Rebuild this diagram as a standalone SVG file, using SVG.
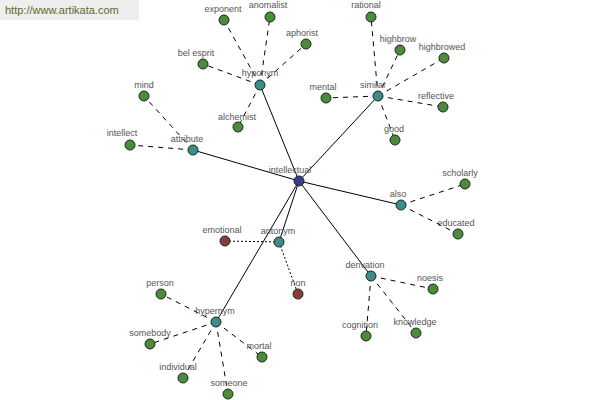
<svg xmlns="http://www.w3.org/2000/svg" width="600" height="400" viewBox="0 0 600 400">
<style>
text{font-family:"Liberation Sans",Arial,sans-serif;font-size:9px;fill:#555;text-anchor:middle}
.s{stroke:#000;stroke-width:1;fill:none}
.d{stroke:#000;stroke-width:1;fill:none;stroke-dasharray:5,5}
.o{stroke:#000;stroke-width:1;fill:none;stroke-dasharray:2,2}
circle{stroke:#1a2a1a;stroke-width:1}
.g{fill:#4b8b3b}
.h{fill:#3d8c8c}
.c{fill:#3b3b8f}
.r{fill:#8b3a3a}
</style>
<rect x="0" y="0" width="139" height="20" fill="#eeeeee"/>
<text x="5" y="14" style="text-anchor:start;font-size:11px;fill:#5b6b2b">http://www.artikata.com</text>
<g id="connectors">
<line class="s" x1="299" y1="181" x2="260" y2="85"/>
<line class="s" x1="299" y1="181" x2="378" y2="96"/>
<line class="s" x1="299" y1="181" x2="193" y2="150"/>
<line class="s" x1="299" y1="181" x2="401" y2="205"/>
<line class="s" x1="299" y1="181" x2="279" y2="242"/>
<line class="s" x1="299" y1="181" x2="371" y2="276"/>
<line class="s" x1="299" y1="181" x2="216" y2="322"/>
<line class="d" x1="260" y1="85" x2="224" y2="20"/>
<line class="d" x1="260" y1="85" x2="270" y2="17"/>
<line class="d" x1="260" y1="85" x2="306" y2="44"/>
<line class="d" x1="260" y1="85" x2="203" y2="64"/>
<line class="d" x1="260" y1="85" x2="238" y2="127"/>
<line class="d" x1="378" y1="96" x2="371" y2="17"/>
<line class="d" x1="378" y1="96" x2="400" y2="50"/>
<line class="d" x1="378" y1="96" x2="444" y2="58"/>
<line class="d" x1="378" y1="96" x2="326" y2="98"/>
<line class="d" x1="378" y1="96" x2="443" y2="107"/>
<line class="d" x1="378" y1="96" x2="395" y2="140"/>
<line class="d" x1="193" y1="150" x2="144" y2="96"/>
<line class="d" x1="193" y1="150" x2="130" y2="145"/>
<line class="d" x1="401" y1="205" x2="465" y2="184"/>
<line class="d" x1="401" y1="205" x2="458" y2="234"/>
<line class="o" x1="279" y1="242" x2="225" y2="241"/>
<line class="o" x1="279" y1="242" x2="298" y2="294"/>
<line class="d" x1="371" y1="276" x2="433" y2="289"/>
<line class="d" x1="371" y1="276" x2="366" y2="336"/>
<line class="d" x1="371" y1="276" x2="416" y2="333"/>
<line class="d" x1="216" y1="322" x2="161" y2="294"/>
<line class="d" x1="216" y1="322" x2="150" y2="344"/>
<line class="d" x1="216" y1="322" x2="183" y2="378"/>
<line class="d" x1="216" y1="322" x2="228" y2="394"/>
<line class="d" x1="216" y1="322" x2="262" y2="357"/>
</g>
<g id="intellectual"><circle class="c" cx="299" cy="181" r="5"/><text x="290" y="173">intellectual</text></g>
<g id="hyponym"><circle class="h" cx="260" cy="85" r="5"/><text x="260" y="76">hyponym</text></g>
<g id="similar"><circle class="h" cx="378" cy="96" r="5"/><text x="373" y="88">similar</text></g>
<g id="attribute"><circle class="h" cx="193" cy="150" r="5"/><text x="187" y="142">attribute</text></g>
<g id="also"><circle class="h" cx="401" cy="205" r="5"/><text x="398" y="197">also</text></g>
<g id="antonym"><circle class="h" cx="279" cy="242" r="5"/><text x="278" y="234">antonym</text></g>
<g id="derivation"><circle class="h" cx="371" cy="276" r="5"/><text x="365" y="268">derivation</text></g>
<g id="hypernym"><circle class="h" cx="216" cy="322" r="5"/><text x="215" y="314">hypernym</text></g>
<g id="exponent"><circle class="g" cx="224" cy="20" r="5"/><text x="223" y="12">exponent</text></g>
<g id="anomalist"><circle class="g" cx="270" cy="17" r="5"/><text x="268" y="8">anomalist</text></g>
<g id="aphorist"><circle class="g" cx="306" cy="44" r="5"/><text x="302" y="36">aphorist</text></g>
<g id="bel-esprit"><circle class="g" cx="203" cy="64" r="5"/><text x="196" y="56">bel esprit</text></g>
<g id="alchemist"><circle class="g" cx="238" cy="127" r="5"/><text x="237" y="120">alchemist</text></g>
<g id="rational"><circle class="g" cx="371" cy="17" r="5"/><text x="366" y="8">rational</text></g>
<g id="highbrow"><circle class="g" cx="400" cy="50" r="5"/><text x="398" y="42">highbrow</text></g>
<g id="highbrowed"><circle class="g" cx="444" cy="58" r="5"/><text x="442" y="50">highbrowed</text></g>
<g id="mental"><circle class="g" cx="326" cy="98" r="5"/><text x="323" y="90">mental</text></g>
<g id="reflective"><circle class="g" cx="443" cy="107" r="5"/><text x="436" y="99">reflective</text></g>
<g id="good"><circle class="g" cx="395" cy="140" r="5"/><text x="394" y="132">good</text></g>
<g id="mind"><circle class="g" cx="144" cy="96" r="5"/><text x="144" y="88">mind</text></g>
<g id="intellect"><circle class="g" cx="130" cy="145" r="5"/><text x="122" y="136">intellect</text></g>
<g id="scholarly"><circle class="g" cx="465" cy="184" r="5"/><text x="460" y="176">scholarly</text></g>
<g id="educated"><circle class="g" cx="458" cy="234" r="5"/><text x="456" y="226">educated</text></g>
<g id="emotional"><circle class="r" cx="225" cy="241" r="5"/><text x="222" y="233">emotional</text></g>
<g id="non"><circle class="r" cx="298" cy="294" r="5"/><text x="298" y="286">non</text></g>
<g id="noesis"><circle class="g" cx="433" cy="289" r="5"/><text x="430" y="281">noesis</text></g>
<g id="cognition"><circle class="g" cx="366" cy="336" r="5"/><text x="360" y="328">cognition</text></g>
<g id="knowledge"><circle class="g" cx="416" cy="333" r="5"/><text x="415" y="325">knowledge</text></g>
<g id="person"><circle class="g" cx="161" cy="294" r="5"/><text x="160" y="286">person</text></g>
<g id="somebody"><circle class="g" cx="150" cy="344" r="5"/><text x="150" y="336">somebody</text></g>
<g id="individual"><circle class="g" cx="183" cy="378" r="5"/><text x="178" y="370">individual</text></g>
<g id="someone"><circle class="g" cx="228" cy="394" r="5"/><text x="229" y="386">someone</text></g>
<g id="mortal"><circle class="g" cx="262" cy="357" r="5"/><text x="259" y="349">mortal</text></g>
</svg>
